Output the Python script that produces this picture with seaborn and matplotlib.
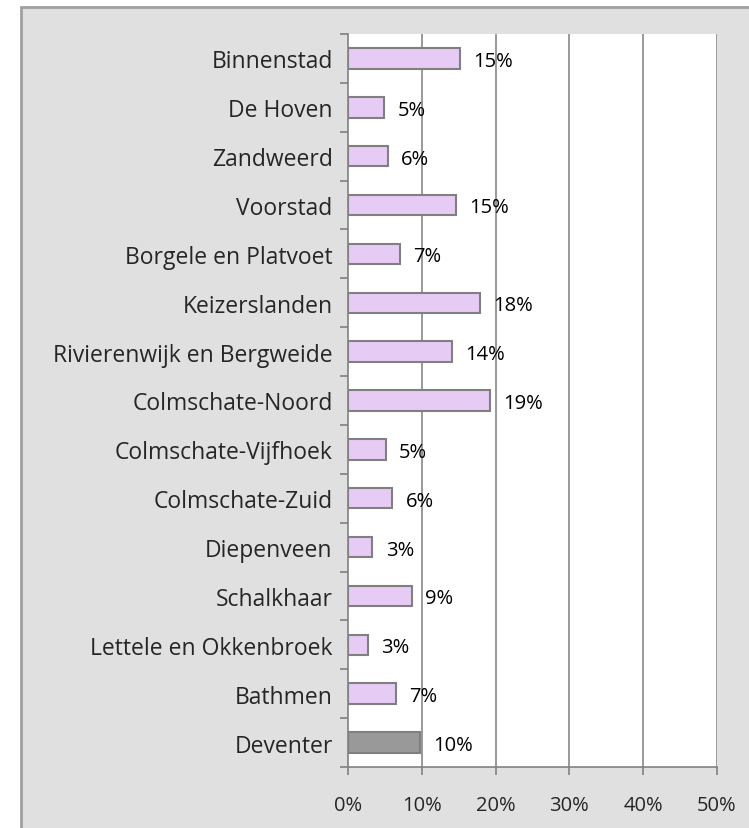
import matplotlib
matplotlib.use("Agg")
import matplotlib.pyplot as plt
import seaborn as sns
import pandas as pd
import numpy as np
from matplotlib.patches import Rectangle
from matplotlib.ticker import FixedLocator

categories = ["Binnenstad", "De Hoven", "Zandweerd", "Voorstad", "Borgele en Platvoet",
              "Keizerslanden", "Rivierenwijk en Bergweide", "Colmschate-Noord",
              "Colmschate-Vijfhoek", "Colmschate-Zuid", "Diepenveen", "Schalkhaar",
              "Lettele en Okkenbroek", "Bathmen", "Deventer"]
values = [15.2, 4.9, 5.4, 14.6, 7.0, 17.9, 14.1, 19.2, 5.1, 6.0, 3.3, 8.7, 2.7, 6.5, 9.8]
labels = ["15%", "5%", "6%", "15%", "7%", "18%", "14%", "19%", "5%", "6%", "3%", "9%", "3%", "7%", "10%"]
xticks = [0, 10, 20, 30, 40, 50]
xticklabels = ["0%", "10%", "20%", "30%", "40%", "50%"]

df = pd.DataFrame({"cat": categories, "val": values})
palette = {c: ("#999999" if c == "Deventer" else "#e8c4fc") for c in categories}

sns.set_style("white")
plt.rcParams['font.family'] = ['Open Sans', 'DejaVu Sans']
FS_CAT = 16.5
FS_NUM = 14.5

fig = plt.figure(figsize=(7.49, 8.29), dpi=100)
fig.patch.set_facecolor("white")
bg = Rectangle((21/749, -0.01), 1, 1.01 - 8/829, transform=fig.transFigure,
               facecolor="#e0e0e0", edgecolor="#a0a0a0", linewidth=2, zorder=-10)
fig.patches.append(bg)

ax = fig.add_axes([348/749, 1 - 768/829, (717 - 348)/749, (768 - 35)/829])
ax.set_zorder(1)
ax.set_facecolor("white")
sns.barplot(data=df, y="cat", x="val", hue="cat", palette=palette, orient="h",
            width=0.42, edgecolor="#808080", linewidth=1.5, legend=False, ax=ax, zorder=3)

ax.set_xlim(0, 50)
ax.set_ylim(14.5, -0.5)
ax.set_xticks(xticks)
ax.set_xticklabels(xticklabels, fontsize=FS_NUM)
ax.set_xlabel("")
ax.set_ylabel("")
ax.tick_params(axis="y", which="major", left=False, length=0, pad=11, labelsize=FS_CAT)
ax.yaxis.set_minor_locator(FixedLocator(np.arange(-0.5, 15, 1)))
ax.tick_params(axis="y", which="minor", left=True, length=6, width=1.2, color="#808080", direction="out")
ax.tick_params(axis="x", which="major", bottom=True, length=6, width=1.2, color="#808080", direction="out", pad=14)

for x in xticks[1:]:
    ax.axvline(x, color="#888888", linewidth=1.2, zorder=1)

for s in ["top", "right"]:
    ax.spines[s].set_visible(False)
ax.spines["left"].set_color("#808080")
ax.spines["bottom"].set_color("#808080")
ax.spines["left"].set_linewidth(1.2)
ax.spines["bottom"].set_linewidth(1.2)

for i, (v, lab) in enumerate(zip(values, labels)):
    ax.text(v + 1.8, i + 0.05, lab, va="center", ha="left", fontsize=FS_NUM, color="black", zorder=4)

fig.savefig("out.png", dpi=100)
